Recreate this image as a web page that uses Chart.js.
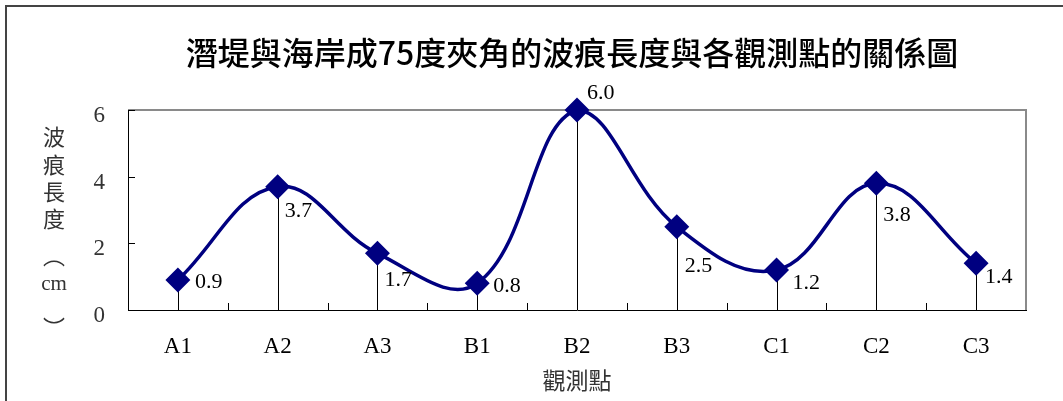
<!DOCTYPE html>
<html>
<head>
<meta charset="utf-8">
<script src="https://cdn.jsdelivr.net/npm/chart.js@4"></script>
<style>
  html, body { margin: 0; padding: 0; background: #fff; }
  #wrap { width: 1063px; height: 401px; position: relative; }
</style>
</head>
<body>
<div id="wrap"><canvas id="chart" width="1063" height="401"></canvas></div>
<script>
// 資料
const puntos = ["A1", "A2", "A3", "B1", "B2", "B3", "C1", "C2", "C3"];
const largoOnda = [0.9, 3.7, 1.7, 0.8, 6.0, 2.5, 1.2, 3.8, 1.4];
const ticksY = [0, 2, 4, 6];

const titulo = "潛堤與海岸成75度夾角的波痕長度與各觀測點的關係圖";
const tituloX = "觀測點";
const tituloY = ["波", "痕", "長", "度", "︵", "cm", "︶"];

// desplazamiento de etiquetas respecto al punto (px)
const etiquetaDx = [17, 7, 7, 16, 10, 8, 16, 7, 9];
const etiquetaDy = [2, 25, 27, 3, -17, 40, 13, 32, 14];

const AZUL = "#000080";
const SERIF = "'Liberation Serif', 'Times New Roman', serif";
const CJK = "'Noto Sans CJK TC', 'Noto Sans CJK SC', sans-serif";

// Plugin: marco, bordes, marcas internas, líneas de caída, etiquetas y títulos
const decoraciones = {
  id: "decoraciones",
  beforeDatasetsDraw(chart) {
    const { ctx, chartArea: a, scales } = chart;
    const meta = chart.getDatasetMeta(0);
    ctx.save();
    // borde superior y derecho (gris)
    ctx.strokeStyle = "#8a8a8a";
    ctx.lineWidth = 2;
    ctx.beginPath();
    ctx.moveTo(a.left, a.top);
    ctx.lineTo(a.right, a.top);
    ctx.lineTo(a.right, a.bottom);
    ctx.stroke();

    // marcas internas y etiquetas del eje Y
    ctx.strokeStyle = "#000";
    ctx.lineWidth = 1;
    ctx.fillStyle = "#333";
    ctx.font = `23px ${SERIF}`;
    ctx.textAlign = "right";
    ctx.textBaseline = "middle";
    ticksY.forEach((v) => {
      const y = Math.round(scales.y.getPixelForValue(v)) + 0.5;
      ctx.beginPath();
      ctx.moveTo(a.left, y);
      ctx.lineTo(a.left + 7, y);
      ctx.stroke();
      ctx.fillText(String(v), 105, y + 5);
    });
    // marcas internas eje X (entre categorías)
    for (let i = 0; i < puntos.length - 1; i++) {
      const x = Math.round((scales.x.getPixelForValue(i) + scales.x.getPixelForValue(i + 1)) / 2) + 0.5;
      ctx.beginPath();
      ctx.moveTo(x, a.bottom);
      ctx.lineTo(x, a.bottom - 7);
      ctx.stroke();
    }
    // líneas de caída
    meta.data.forEach((p) => {
      const x = Math.round(p.x) + 0.5;
      ctx.beginPath();
      ctx.moveTo(x, p.y);
      ctx.lineTo(x, a.bottom);
      ctx.stroke();
    });
    ctx.restore();
  },
  afterDatasetsDraw(chart) {
    const { ctx } = chart;
    const meta = chart.getDatasetMeta(0);
    ctx.save();
    // etiquetas de datos
    ctx.fillStyle = "#000";
    ctx.font = `22px ${SERIF}`;
    ctx.textAlign = "left";
    ctx.textBaseline = "middle";
    meta.data.forEach((p, i) => {
      ctx.fillText(largoOnda[i].toFixed(1), p.x + etiquetaDx[i], p.y + etiquetaDy[i]);
    });
    ctx.restore();
  },
  afterDraw(chart) {
    const { ctx, chartArea: a } = chart;
    ctx.save();
    // marco exterior (izquierda y arriba)
    ctx.strokeStyle = "#444";
    ctx.lineWidth = 2;
    ctx.beginPath();
    ctx.moveTo(6, chart.height);
    ctx.lineTo(6, 6);
    ctx.lineTo(chart.width, 6);
    ctx.stroke();

    // título
    ctx.fillStyle = "#000";
    ctx.font = `500 32px ${CJK}`;
    ctx.textAlign = "center";
    ctx.textBaseline = "middle";
    ctx.fillText(titulo, 572, 53);

    // título eje X
    ctx.fillStyle = "#333";
    ctx.font = `23px ${CJK}`;
    ctx.fillText(tituloX, (a.left + a.right) / 2, 380);

    // título eje Y (vertical)
    const ys = [137, 165, 192, 219, 256, 284, 328];
    tituloY.forEach((c, i) => {
      ctx.font = c === "cm" ? `21px ${SERIF}` : `22px ${CJK}`;
      ctx.fillText(c, 54, ys[i]);
    });
    ctx.restore();
  },
};

const ctx = document.getElementById("chart").getContext("2d");
new Chart(ctx, {
  type: "line",
  data: {
    labels: puntos,
    datasets: [
      {
        data: largoOnda,
        borderColor: AZUL,
        backgroundColor: AZUL,
        borderWidth: 3.5,
        tension: 0.4,
        pointStyle: "rectRot",
        pointRadius: 10,
        pointHoverRadius: 10,
        pointBackgroundColor: AZUL,
        pointBorderColor: AZUL,
        fill: false,
        clip: false,
      },
    ],
  },
  options: {
    responsive: false,
    animation: false,
    events: [],
    layout: { padding: { left: 0, right: 37, top: 110, bottom: 0 } },
    plugins: {
      legend: { display: false },
      tooltip: { enabled: false },
      title: { display: false },
    },
    scales: {
      x: {
        offset: true,
        grid: { display: false, drawTicks: false },
        border: { display: true, color: "#000", width: 1 },
        ticks: {
          color: "#000",
          font: { family: SERIF, size: 23 },
          padding: 23,
          maxRotation: 0,
        },
        afterFit(scale) { scale.height = 91; },
      },
      y: {
        min: 0,
        max: 6,
        afterBuildTicks(scale) { scale.ticks = ticksY.map((v) => ({ value: v })); },
        grid: { display: false, drawTicks: false },
        border: { display: true, color: "#000", width: 1 },
        ticks: { display: false },
        afterFit(scale) { scale.width = 128; },
      },
    },
  },
  plugins: [decoraciones],
});
</script>
</body>
</html>
